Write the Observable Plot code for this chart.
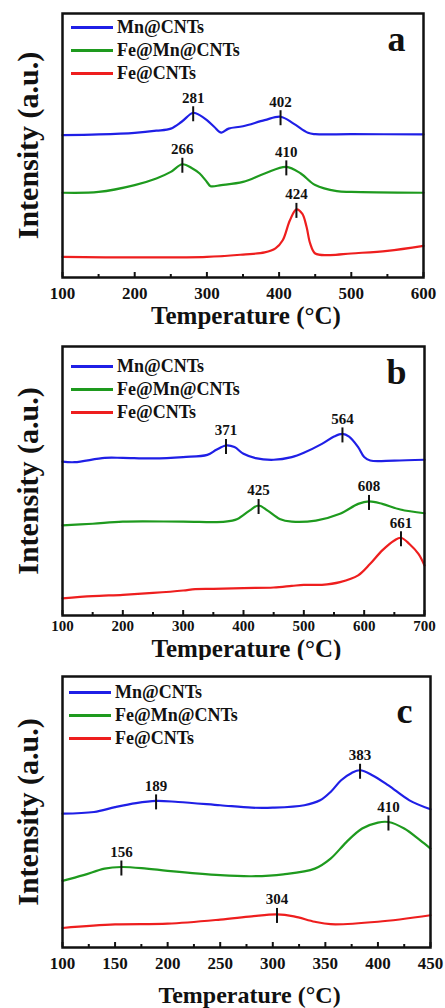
<!DOCTYPE html>
<html><head><meta charset="utf-8">
<script src="https://cdn.jsdelivr.net/npm/d3@7"></script>
<script src="https://cdn.jsdelivr.net/npm/@observablehq/plot@0.6"></script>
<style>
body{margin:0;background:#fff;}
.panel{position:relative;width:445px;overflow:hidden;}
.panel svg{display:block;}
.legend{position:absolute;font-family:"Liberation Serif","Times New Roman",serif;font-weight:bold;font-size:18px;color:#111;}
.row{display:flex;align-items:center;height:23px;line-height:23px;white-space:nowrap;}
.sw{width:42px;height:3px;margin-right:4px;}
</style></head><body><div id="chart"></div>
<script>
const seriesNames = ["Mn@CNTs", "Fe@Mn@CNTs", "Fe@CNTs"];
const seriesColors = ["#1f1fe6", "#1e9a1e", "#ee1e1e"];

// Panel a (TPR, 100-600 °C)
const aMn = [[100,53.9],[150,54.2],[200,54.8],[230,55.6],[250,56.4],[265,59.0],[281,62.4],[290,61.5],[300,59.6],[310,57.1],[320,54.9],[330,56.4],[350,57.3],[380,59.6],[402,60.9],[420,58.3],[440,54.8],[450,54.3],[500,54.3],[600,54.2]];
const aFeMn = [[100,32.1],[150,32.4],[200,35.0],[230,37.5],[250,40.0],[266,42.9],[280,41.3],[290,39.4],[300,36.2],[305,34.6],[320,35.0],[350,36.2],[380,39.4],[410,41.9],[430,39.4],[450,35.0],[480,32.7],[500,32.4],[600,32.1]];
const aFe = [[100,7.8],[200,7.6],[300,7.8],[350,8.7],[380,9.5],[395,11.0],[405,14.1],[415,21.7],[424,25.8],[432,24.2],[438,19.2],[443,12.9],[450,9.1],[470,8.5],[500,9.1],[550,10.1],[600,12.0]];
const aPeaks = [[281,0],[402,0],[266,1],[410,1],[424,2]];
const aTicks = [100,200,300,400,500,600];
const aMinor = [150,250,350,450,550];

// Panel b (100-700 °C)
const bMn = [[100,57.2],[120,57.0],[170,58.6],[200,58.6],[250,58.4],[300,58.9],[340,59.7],[355,61.6],[371,63.2],[385,62.6],[400,60.1],[420,58.5],[450,57.9],[480,58.9],[500,60.5],[530,63.8],[550,66.5],[564,67.5],[575,66.5],[590,62.6],[600,58.9],[610,57.6],[650,57.6],[700,57.9]];
const bFeMn = [[100,33.5],[150,34.1],[200,34.9],[300,34.9],[370,34.9],[390,35.9],[410,39.0],[425,40.9],[440,39.0],[460,35.9],[480,34.9],[520,35.3],[560,37.8],[590,41.5],[608,42.4],[630,41.5],[660,39.4],[700,38.0]];
const bFe = [[100,6.4],[150,7.2],[200,7.7],[250,8.4],[300,9.3],[320,9.8],[350,9.9],[400,10.2],[450,10.4],[480,11.0],[500,11.4],[530,11.4],[560,12.4],[590,14.9],[610,19.2],[630,24.2],[650,27.9],[661,28.9],[675,26.6],[690,22.9],[700,18.6]];
const bPeaks = [[371,0],[564,0],[425,1],[608,1],[661,2]];
const bTicks = [100,200,300,400,500,600,700];
const bMinor = [150,250,350,450,550,650];

// Panel c (100-450 °C)
const cMn = [[100,49.4],[130,50.0],[150,51.8],[170,53.3],[189,54.1],[210,53.7],[250,52.5],[280,51.6],[300,51.6],[330,52.5],[345,54.3],[355,57.4],[365,61.7],[375,64.4],[383,65.4],[395,63.5],[410,59.8],[430,54.3],[450,51.0]];
const cFeMn = [[100,24.6],[120,26.7],[140,29.1],[156,29.7],[180,29.1],[200,28.3],[250,26.7],[280,26.3],[310,27.0],[340,29.1],[355,32.8],[370,38.9],[385,43.9],[400,46.1],[410,46.3],[425,43.9],[440,39.6],[450,36.5]];
const cFe = [[100,7.2],[150,8.5],[200,8.8],[250,10.3],[280,11.5],[304,12.2],[320,11.5],[340,9.5],[355,8.6],[400,9.5],[450,11.9]];
const cPeaks = [[189,0],[383,0],[156,1],[410,1],[304,2]];
const cTicks = [100,150,200,250,300,350,400,450];
const cMinor = [125,175,225,275,325,375,425];

const panels = [
  {letter:"a", series:[aMn,aFeMn,aFe], peaks:aPeaks, domain:[100,600], ticks:aTicks, minor:aMinor,
   height:330, mt:13, mb:53, mr:22, tickPad:9, tickFont:17, titleDy:38, titleFont:25, letterDy:37, legendTop:16, legendLeft:71},
  {letter:"b", series:[bMn,bFeMn,bFe], peaks:bPeaks, domain:[100,700], ticks:bTicks, minor:bMinor,
   height:330, mt:16, mb:45, mr:21, tickPad:5, tickFont:15, titleDy:33, titleFont:25, letterDy:37, legendTop:25, legendLeft:71},
  {letter:"c", series:[cMn,cFeMn,cFe], peaks:cPeaks, domain:[100,450], ticks:cTicks, minor:cMinor,
   height:348, mt:16, mb:61, mr:15, tickPad:9, tickFont:17, titleDy:48, titleFont:24, letterDy:46, legendTop:21, legendLeft:69}
];

const FONT = '"Liberation Serif","Times New Roman",serif';
const root = document.getElementById("chart");

for (const p of panels) {
  const fh = p.height - p.mt - p.mb;
  const u = 100 / fh;
  const data = p.series.flatMap((s, i) => s.map(([t, v]) => ({t, v, s: seriesNames[i]})));
  const peaks = p.peaks.map(([t, i]) => ({t, v: p.series[i].find(d => d[0] === t)[1]}));
  const svg = Plot.plot({
    width: 445, height: p.height,
    marginTop: p.mt, marginBottom: p.mb, marginLeft: 62, marginRight: p.mr,
    x: {domain: p.domain},
    y: {domain: [0, 100], axis: null},
    color: {domain: seriesNames, range: seriesColors},
    style: {fontFamily: FONT, fontWeight: "bold", background: "white", color: "#111", overflow: "visible"},
    marks: [
      Plot.line(data, {x: "t", y: "v", z: "s", stroke: "s", strokeWidth: 2.2, curve: "catmull-rom"}),
      Plot.ruleX(peaks, {x: "t", y1: d => d.v - 9 * u, y2: d => d.v + 6 * u, stroke: "#111", strokeWidth: 2}),
      Plot.text(peaks, {x: "t", y: "v", text: d => String(d.t), dy: -10, lineAnchor: "bottom", fontSize: 15, fontWeight: "bold", fontFamily: FONT, fill: "#111"}),
      Plot.ruleX(p.ticks, {x: d => d, y1: 0, y2: 5 * u, stroke: "#111", strokeWidth: 2}),
      Plot.ruleX(p.minor, {x: d => d, y1: 0, y2: 3 * u, stroke: "#111", strokeWidth: 2}),
      Plot.axisX({ticks: p.ticks, tickSize: 0, tickPadding: p.tickPad, fontSize: p.tickFont, fontWeight: "bold", fontFamily: FONT, label: null, tickFormat: d => String(d)}),
      Plot.frame({stroke: "#111", strokeWidth: 2.5}),
      Plot.text(["Temperature (°C)"], {text: d => d, frameAnchor: "bottom", dy: p.titleDy, dx: 3, textAnchor: "middle", fontSize: p.titleFont, fontWeight: "bold", fontFamily: FONT, lineAnchor: "middle", fill: "#111"}),
      Plot.text(["Intensity (a.u.)"], {text: d => d, frameAnchor: "left", dx: -34, rotate: -90, textAnchor: "middle", fontSize: 30, fontWeight: "bold", fontFamily: FONT, lineAnchor: "middle", fill: "#111"}),
      Plot.text([p.letter], {text: d => d, frameAnchor: "top-right", dx: -18, dy: p.letterDy, textAnchor: "end", lineAnchor: "bottom", fontSize: 36, fontWeight: "bold", fontFamily: FONT, fill: "#111"})
    ]
  });
  const div = document.createElement("div");
  div.className = "panel";
  div.style.height = p.height + "px";
  div.appendChild(svg);
  const leg = document.createElement("div");
  leg.className = "legend";
  leg.style.left = p.legendLeft + "px";
  leg.style.top = p.legendTop + "px";
  seriesNames.forEach((name, i) => {
    const row = document.createElement("div");
    row.className = "row";
    const sw = document.createElement("span");
    sw.className = "sw";
    sw.style.background = seriesColors[i];
    const tx = document.createElement("span");
    tx.textContent = name;
    row.appendChild(sw); row.appendChild(tx);
    leg.appendChild(row);
  });
  div.appendChild(leg);
  root.appendChild(div);
}
</script></body></html>
